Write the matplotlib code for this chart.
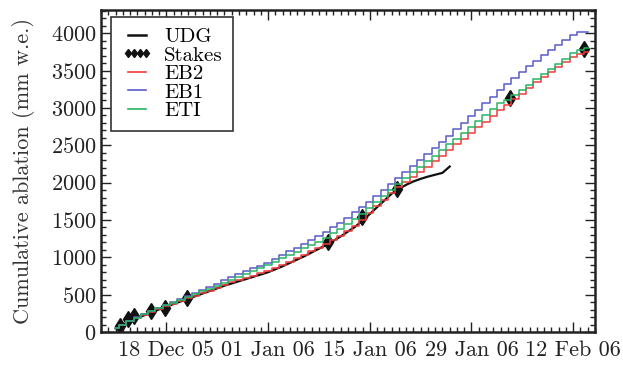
import numpy as np
import matplotlib
matplotlib.use("Agg")
import matplotlib.pyplot as plt
import matplotlib.dates as mdates
from matplotlib.lines import Line2D
from matplotlib.ticker import MultipleLocator
import datetime as dt

plt.rcParams['font.family'] = ['cmr10', 'DejaVu Serif']
plt.rcParams['axes.formatter.use_mathtext'] = True
plt.rcParams['mathtext.fontset'] = 'cm'

# ---- data (daily, 11 Dec 2005 .. 14 Feb 2006) ----
start_date = dt.datetime(2005, 12, 11)

eb1 = [50, 100, 150, 195, 240, 280, 320, 360, 400, 440, 480, 520, 560, 600, 640,
       690, 730, 770, 810, 850, 890, 930, 980, 1030, 1080, 1130, 1180, 1230, 1280,
       1345, 1405, 1465, 1530, 1600, 1670, 1745, 1825, 1905, 1985, 2065, 2145, 2225,
       2305, 2385, 2465, 2545, 2630, 2715, 2800, 2890, 2975, 3065, 3150, 3235, 3320,
       3400, 3480, 3555, 3630, 3705, 3775, 3845, 3915, 3980, 4015, 4020]

eti = [50, 100, 148, 192, 236, 276, 315, 355, 392, 430, 468, 506, 544, 582, 620,
       660, 700, 738, 776, 815, 855, 895, 940, 985, 1030, 1075, 1120, 1165, 1210,
       1260, 1320, 1380, 1445, 1515, 1585, 1665, 1745, 1825, 1905, 1985, 2060, 2135,
       2210, 2285, 2360, 2435, 2510, 2590, 2670, 2750, 2830, 2910, 2990, 3060, 3100,
       3170, 3240, 3310, 3380, 3450, 3520, 3590, 3660, 3730, 3780, 3795]

eb2 = [50, 98, 145, 188, 230, 270, 308, 345, 380, 415, 450, 485, 520, 555, 590,
       630, 665, 695, 725, 755, 785, 815, 855, 895, 940, 985, 1030, 1080, 1130,
       1175, 1230, 1290, 1355, 1420, 1500, 1590, 1680, 1770, 1860, 1935, 2005, 2075,
       2145, 2215, 2285, 2355, 2430, 2510, 2590, 2665, 2740, 2815, 2890, 2965, 3040,
       3115, 3190, 3265, 3340, 3410, 3480, 3545, 3610, 3675, 3725, 3742]

udg = [50, 95, 140, 185, 225, 265, 303, 340, 375, 410, 445, 480, 515, 550, 585,
       620, 650, 680, 710, 740, 770, 800, 840, 880, 925, 970, 1015, 1065, 1115,
       1165, 1220, 1280, 1345, 1410, 1490, 1580, 1670, 1760, 1850, 1915, 1970, 2015,
       2050, 2080, 2105, 2130, 2215]

stake_days = [0.6, 1.7, 2.6, 4.9, 6.8, 9.8, 29.3, 33.9, 38.7, 54.3, 64.5]  # days after 11 Dec 2005
stake_vals = [85, 174, 218, 285, 317, 455, 1200, 1540, 1920, 3130, 3786]

tick_dates = ['2005-12-18', '2006-01-01', '2006-01-15', '2006-01-29', '2006-02-12']

# ---- build dates ----
model_dates = [start_date + dt.timedelta(days=i) for i in range(len(eb1))]
udg_dates = [start_date + dt.timedelta(days=i) for i in range(len(udg))]
stake_dates = [start_date + dt.timedelta(days=d) for d in stake_days]

fig = plt.figure(figsize=(6.23, 3.65), dpi=100)
ax = fig.add_axes([101/623, 1-332/365, (595-101)/623, (332-10)/365])

c_red = '#f03c3c'
c_blue = '#5a5ac8'
c_green = '#28b464'

ax.plot(stake_dates, stake_vals, linestyle='none', marker='d', color='#111111',
        markersize=8, zorder=1)
ax.plot(udg_dates, udg, color='#111111', lw=1.6, zorder=2)
ax.plot(model_dates, eb2, color=c_red, lw=1.1, drawstyle='steps-mid', zorder=3)
ax.plot(model_dates, eb1, color=c_blue, lw=1.1, drawstyle='steps-mid', zorder=4)
ax.plot(model_dates, eti, color=c_green, lw=1.1, drawstyle='steps-mid', zorder=5)

ax.set_xlim(dt.datetime(2005, 12, 9), dt.datetime(2006, 2, 15))
ax.set_ylim(0, 4310)

ax.set_xticks([dt.datetime.strptime(t, '%Y-%m-%d') for t in tick_dates])
ax.xaxis.set_major_formatter(mdates.DateFormatter('%d %b %y'))
ax.xaxis.set_minor_locator(mdates.DayLocator())
ax.yaxis.set_major_locator(MultipleLocator(500))
ax.yaxis.set_minor_locator(MultipleLocator(100))

ax.tick_params(which='both', direction='in', top=True, right=True, labelsize=16,
               width=1.0, colors='#222222')
ax.tick_params(which='major', length=7)
ax.tick_params(which='minor', length=3.5)
ax.tick_params(axis='x', pad=6)
for s in ax.spines.values():
    s.set_linewidth(1.8)
    s.set_color('#222222')

ax.set_ylabel('Cumulative ablation (mm w.e.)', fontsize=16, color='#333333', labelpad=11)

handles = [
    Line2D([], [], color='#111111', lw=1.8),
    Line2D([], [], linestyle='none', marker='d', color='#111111', markersize=4.5),
    Line2D([], [], color=c_red, lw=1.2),
    Line2D([], [], color=c_blue, lw=1.2),
    Line2D([], [], color=c_green, lw=1.2),
]
labels = ['UDG', 'Stakes', 'EB2', 'EB1', 'ETI']
leg = ax.legend(handles, labels, loc='upper left', bbox_to_anchor=(10/494, 1-7/322),
                borderaxespad=0, fontsize=15, numpoints=4, handlelength=1.5,
                handletextpad=0.55, labelspacing=0.0, borderpad=0.5,
                fancybox=False, framealpha=1, edgecolor='#333333')
leg.get_frame().set_linewidth(1.2)

fig.savefig('out.png', dpi=100)
